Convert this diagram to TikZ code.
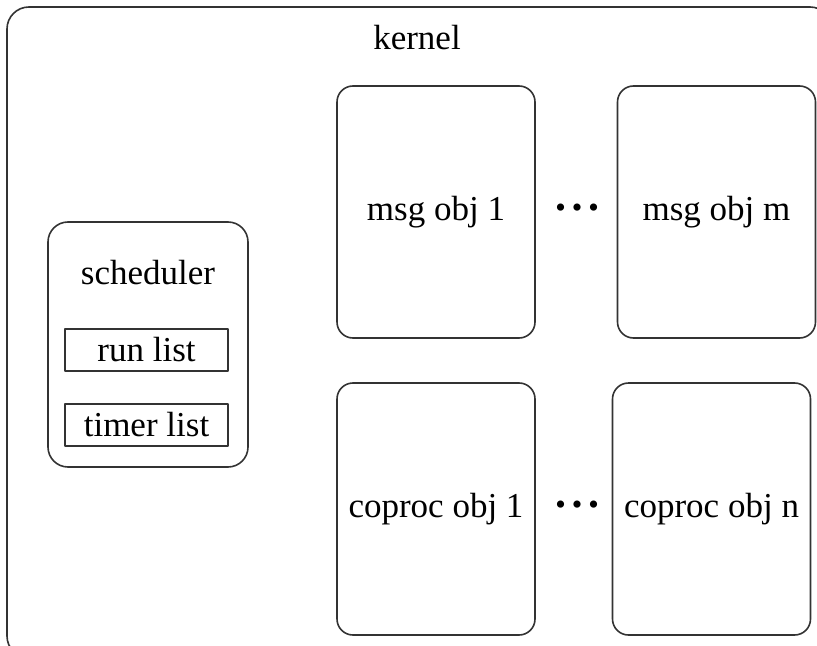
\documentclass[tikz,border=0pt]{standalone}
\usepackage{fontspec}
\setmainfont{Liberation Serif}

\tikzset{
  objbox/.style={draw=black!80, line width=0.8pt, rounded corners=8pt,
    minimum width=99pt, minimum height=126pt, inner sep=0pt},
  listbox/.style={draw=black!80, line width=0.8pt,
    minimum width=81.5pt, minimum height=21pt, inner sep=0pt},
  dotsnode/.style={inner sep=0pt, font=\fontsize{15}{18}\selectfont}
}

\newcommand{\objdots}{\textbullet\hspace{3pt}\textbullet\hspace{3pt}\textbullet}

\begin{document}
\begin{tikzpicture}[x=0.5pt, y=-0.5pt, line cap=round, line join=round,
  font=\fontsize{17.5}{21}\selectfont]

\useasboundingbox (0,0) rectangle (817,646);
\clip (0,0) rectangle (817,646);

% cornice del kernel
\draw[black!80, line width=0.8pt, rounded corners=11pt] (7,7) rectangle (832,658);
\node (kernel) at (417,38) {kernel};

% scheduler con le sue liste
\node[objbox, rounded corners=10pt, minimum width=100pt, minimum height=122.5pt]
  (sched) at (148,344.5) {};
\node (schedlbl) at (148,273) {scheduler};
\node[listbox] (runlist) at (146.5,350) {run list};
\node[listbox] (timerlist) at (146.5,425) {timer list};

% oggetti messaggio
\node[objbox] (msg1) at (436,212) {msg obj 1};
\node[objbox] (msgm) at (716.5,212) {msg obj m};
\node[dotsnode] (msgdots) at (577,211) {\objdots};

% oggetti coprocessore
\node[objbox] (cop1) at (436,509) {coproc obj 1};
\node[objbox] (copn) at (711.5,509) {coproc obj n};
\node[dotsnode] (copdots) at (577,508) {\objdots};

\end{tikzpicture}
\end{document}
